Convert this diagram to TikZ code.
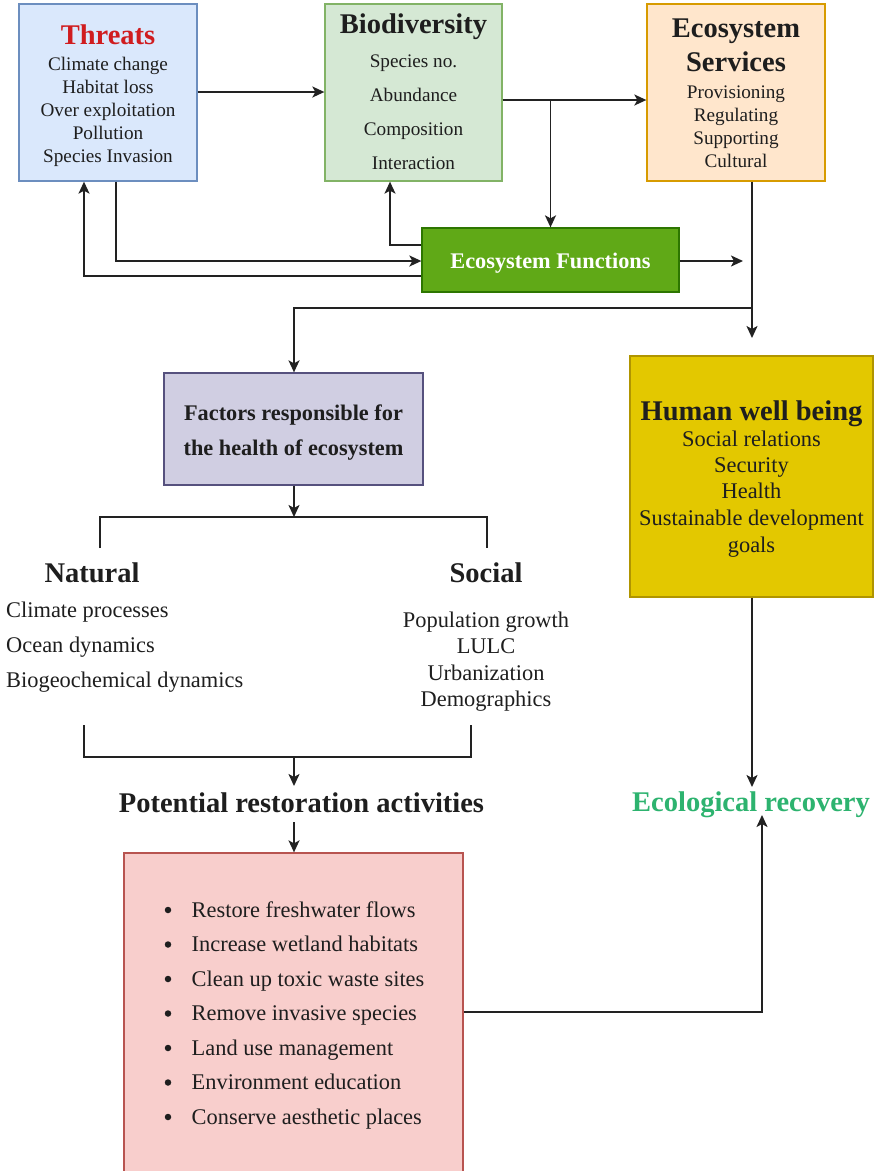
\documentclass[tikz,border=0pt]{standalone}
\usepackage{fontspec}
\setmainfont{Liberation Serif}
\usetikzlibrary{arrows.meta,calc}
\definecolor{thrF}{HTML}{DAE8FC}\definecolor{thrL}{HTML}{6C8EBF}
\definecolor{bioF}{HTML}{D5E8D4}\definecolor{bioL}{HTML}{82B366}
\definecolor{esF}{HTML}{FFE6CC}\definecolor{esL}{HTML}{D79B00}
\definecolor{efF}{HTML}{60A917}\definecolor{efL}{HTML}{2D7600}
\definecolor{facF}{HTML}{D0CEE2}\definecolor{facL}{HTML}{56517E}
\definecolor{hwbF}{HTML}{E3C800}\definecolor{hwbL}{HTML}{B09500}
\definecolor{resF}{HTML}{F8CECC}\definecolor{resL}{HTML}{B85450}
\definecolor{erG}{HTML}{2DB36F}
\definecolor{thrR}{HTML}{D01C1F}
\definecolor{txt}{HTML}{1E1E1E}
\definecolor{lc}{HTML}{222222}
\begin{document}
\begin{tikzpicture}[x=1pt,y=-1pt,
  box/.style={draw, line width=1.3pt, inner sep=0pt},
  ttl/.style={anchor=base, inner sep=0pt, text=txt, font=\fontsize{28.5}{34}\selectfont\bfseries},
  sm/.style={anchor=base, inner sep=0pt, text=txt, font=\fontsize{19.2}{23}\selectfont},
  md/.style={anchor=base, inner sep=0pt, text=txt, font=\fontsize{22.4}{27}\selectfont},
  mdb/.style={anchor=base, inner sep=0pt, text=txt, font=\fontsize{22.3}{27}\selectfont\bfseries},
  dot/.style={circle, fill=txt, inner sep=0pt, minimum size=6.5pt},
  ln/.style={draw=lc, line width=1.8pt},
  arr/.style={draw=lc, line width=1.8pt, -{Stealth[length=12pt,width=11pt,inset=3pt]}}
]
\clip (0,0) rectangle (880,1171);
\useasboundingbox (0,0) rectangle (880,1171);
\fill[white] (0,0) rectangle (880,1171);

% ---- boxes
\node[box, fill=thrF, draw=thrL, minimum width=178pt, minimum height=177pt] (threats) at (108,92.5) {};
\node[box, fill=bioF, draw=bioL, minimum width=177pt, minimum height=177pt] (bio) at (413.5,92.5) {};
\node[box, fill=esF, draw=esL, minimum width=178pt, minimum height=177pt] (es) at (736,92.5) {};
\node[box, fill=efF, draw=efL, minimum width=257pt, minimum height=64pt] (ef) at (550.5,260) {};
\node[box, fill=facF, draw=facL, minimum width=259pt, minimum height=112pt] (fac) at (293.5,429) {};
\node[box, fill=hwbF, draw=hwbL, minimum width=243pt, minimum height=241pt] (hwb) at (751.5,476.5) {};
\node[box, fill=resF, draw=resL, minimum width=339pt, minimum height=327pt] (res) at (293.5,1016.5) {};

% ---- Threats
\node[ttl, text=thrR] (thrT) at (108,44) {Threats};
\node[sm] (thr1) at (108,70) {Climate change};
\node[sm] (thr2) at (108,93) {Habitat loss};
\node[sm] (thr3) at (108,116) {Over exploitation};
\node[sm] (thr4) at (108,139) {Pollution};
\node[sm] (thr5) at (108,162) {Species Invasion};

% ---- Biodiversity
\node[ttl] (bioT) at (413.5,33) {Biodiversity};
\node[sm] (bio1) at (413.5,67) {Species no.};
\node[sm] (bio2) at (413.5,101) {Abundance};
\node[sm] (bio3) at (413.5,135) {Composition};
\node[sm] (bio4) at (413.5,169) {Interaction};

% ---- Ecosystem Services
\node[ttl] (esT1) at (736,37) {Ecosystem};
\node[ttl] (esT2) at (736,71.5) {Services};
\node[sm] (es1) at (736,98) {Provisioning};
\node[sm] (es2) at (736,121.5) {Regulating};
\node[sm] (es3) at (736,144.5) {Supporting};
\node[sm] (es4) at (736,167) {Cultural};

% ---- Ecosystem Functions
\node[mdb, text=white] (efT) at (550.5,268) {Ecosystem Functions};

% ---- Factors
\node[mdb] (fac1) at (293.5,420) {Factors responsible for};
\node[mdb] (fac2) at (293.5,455.5) {the health of ecosystem};

% ---- Natural / Social
\node[ttl] (nat) at (92,582) {Natural};
\node[ttl] (soc) at (486,582) {Social};
\node[md, anchor=base west] (nat1) at (6,617) {Climate processes};
\node[md, anchor=base west] (nat2) at (6,652) {Ocean dynamics};
\node[md, anchor=base west] (nat3) at (6,687) {Biogeochemical dynamics};
\node[md] (soc1) at (486,627) {Population growth};
\node[md] (soc2) at (486,653) {LULC};
\node[md] (soc3) at (486,680) {Urbanization};
\node[md] (soc4) at (486,706) {Demographics};

% ---- Human well being
\node[ttl] (hwbT) at (751.5,420) {Human well being};
\node[md] (hwb1) at (751.5,446) {Social relations};
\node[md] (hwb2) at (751.5,472) {Security};
\node[md] (hwb3) at (751.5,498.5) {Health};
\node[md] (hwb4) at (751.5,525) {Sustainable development};
\node[md] (hwb5) at (751.5,552) {goals};

% ---- Potential restoration
\node[ttl] (pra) at (301.5,812) {Potential restoration activities};
\node[ttl, text=erG] (er) at (751,811) {Ecological recovery};

\foreach \i/\yy/\t in {1/917/Restore freshwater flows,2/951.5/Increase wetland habitats,3/986/Clean up toxic waste sites,4/1020.5/Remove invasive species,5/1055/Land use management,6/1089.5/Environment education,7/1124/Conserve aesthetic places}{
  \node[dot] (b\i) at (168,\yy-7) {};
  \node[md, anchor=base west] (r\i) at (191.5,\yy) {\t};
}

% ---- free-end coordinates
\coordinate (efEnd) at (743,261);
\coordinate (br) at (752,308);
\coordinate (hwbIn) at (752,338);
\coordinate (brTop) at (294,517);
\coordinate (brL) at (100,548);
\coordinate (brR) at (487,548);
\coordinate (lbL) at (84,725);
\coordinate (lbR) at (471,725);
\coordinate (lbMid) at (294,757);
\coordinate (praIn) at (294,786);
\coordinate (praOut) at (294,822);
\coordinate (erTop) at (752,787);
\coordinate (erBot) at (762,815);

% ---- connectors
\draw[arr] (threats.east |- 0,92) -- (bio.west |- 0,92);
\draw[arr] (bio.east |- 0,100) -- (es.west |- 0,100);
\draw[arr] (bio.east |- 0,100) -| (ef.north);
\draw[arr] (ef.west |- 0,245) -| (bio.south -| 390,0);
\draw[arr] (threats.south -| 116,0) |- (ef.west |- 0,261);
\draw[arr] (ef.west |- 0,276) -| (threats.south -| 84,0);
\draw[arr] (ef.east |- efEnd) -- (efEnd);
\draw[arr] (es.south -| hwbIn) -- (hwbIn);
\draw[arr] (br) -| (fac.north -| brTop);
\draw[arr] (fac.south -| brTop) -- (brTop);
\draw[ln] (brL) |- (brTop) -| (brR);
\draw[ln] (lbL) |- (lbMid) -| (lbR);
\draw[arr] (lbMid) -- (praIn);
\draw[arr] (praOut) -- (res.north -| praOut);
\draw[arr] (hwb.south -| erTop) -- (erTop);
\draw[arr] (res.east |- 0,1012) -| (erBot);
\end{tikzpicture}
\end{document}
